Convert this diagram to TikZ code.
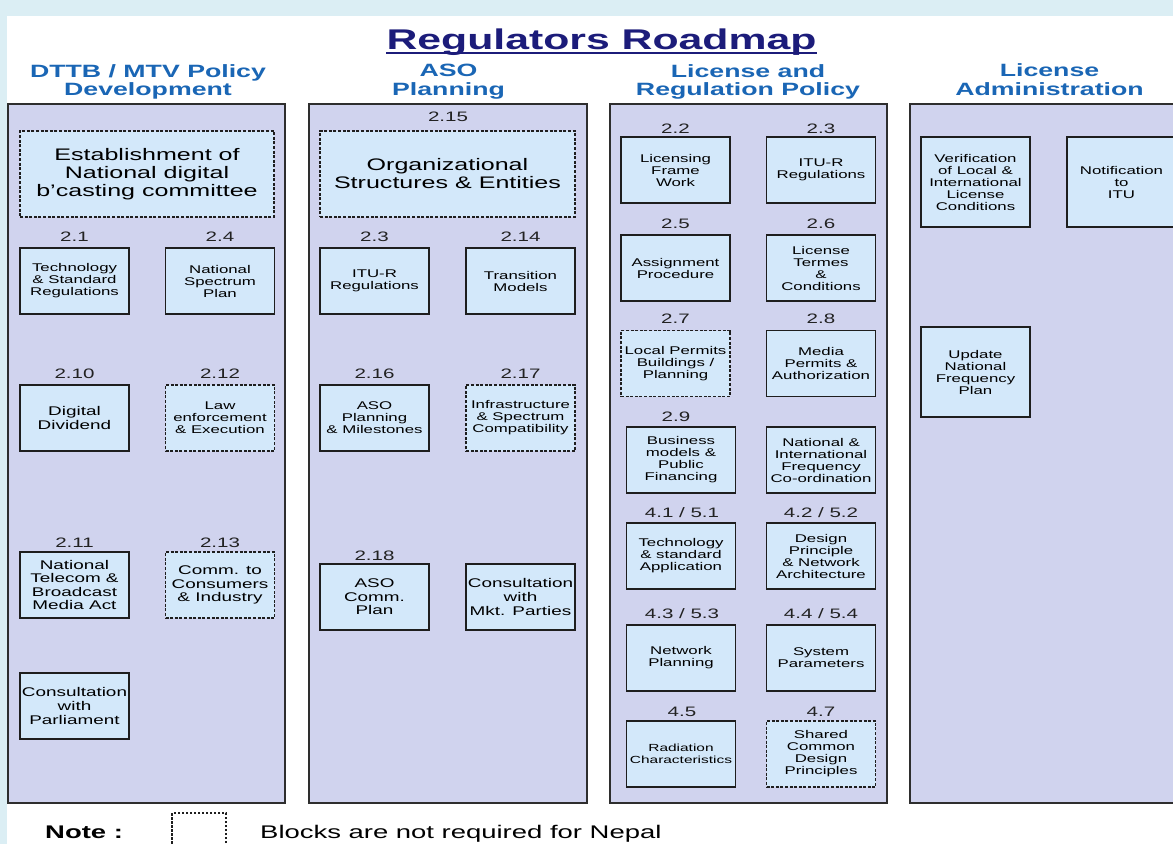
\documentclass[tikz,border=0pt]{standalone}
\usepackage{fontspec}
\setmainfont{Liberation Sans}[FakeStretch=1.5]
\newcommand{\FStitle}{\fontsize{28.5pt}{30pt}\selectfont\bfseries}
\newcommand{\FShead}{\fontsize{17.8pt}{18.6pt}\selectfont\bfseries}
\newcommand{\FSbig}{\fontsize{16.7pt}{18pt}\selectfont}
\newcommand{\FSmed}{\fontsize{12.6pt}{13.6pt}\selectfont}
\newcommand{\FSsmall}{\fontsize{11.2pt}{12pt}\selectfont}
\newcommand{\FStiny}{\fontsize{10.3pt}{12pt}\selectfont}
\newcommand{\FSlbl}{\fontsize{13.7pt}{14pt}\selectfont}
\newcommand{\FSnote}{\fontsize{18.3pt}{19pt}\selectfont}
\definecolor{bgblue}{HTML}{DBEEF4}
\definecolor{panelfill}{HTML}{D0D3EE}
\definecolor{panelline}{HTML}{2E2E2E}
\definecolor{boxfill}{HTML}{D3E8FA}
\definecolor{boxline}{HTML}{1E1E1E}
\definecolor{titlecol}{HTML}{1C1C7A}
\definecolor{headcol}{HTML}{1A66B5}
\definecolor{lblcol}{HTML}{222222}
\begin{document}
\begin{tikzpicture}[x=1pt,y=-1pt,
  panel/.style={draw=panelline, fill=panelfill, line width=2pt, inner sep=0pt, minimum height=699pt},
  bx/.style={draw=boxline, fill=boxfill, line width=1.8pt, minimum width=109pt, minimum height=66pt, inner sep=0pt, align=center, text=black, font=\FSsmall},
  dbx/.style={bx, dash pattern=on 3pt off 1.6pt, line width=1.5pt},
  lbl/.style={anchor=base, inner sep=0pt, font=\FSlbl, text=lblcol},
  head/.style={inner sep=0pt, align=center, font=\FShead, text=headcol},
  notetxt/.style={anchor=base west, inner sep=0pt, font=\FSnote, text=black}
]
\useasboundingbox (0,0) rectangle (1173,844);
\clip (0,0) rectangle (1173,844);
\fill[bgblue] (0,0) rectangle (1173,844);
\fill[white] (7.3,16) rectangle (1173,844);

% title
\node[anchor=base, inner sep=0pt, font=\FStitle, text=titlecol] (title) at (601.5,49) {Regulators Roadmap};
\draw[titlecol, line width=2pt] ([yshift=-3.5pt]title.base west) -- ([yshift=-3.5pt]title.base east);

% headers
\node[head] (h1) at (148,81.8) {DTTB / MTV Policy\\Development};
\node[head] (h2) at (448.5,81.8) {ASO\\Planning};
\node[head] (h3) at (748,81.8) {License and\\Regulation Policy};
\node[head] (h4) at (1049.5,79.9) {License\\Administration};

% panels
\node[panel, minimum width=277pt] (p1) at (146.5,453.5) {};
\node[panel, minimum width=278pt] (p2) at (448,453.5) {};
\node[panel, minimum width=277.5pt] (p3) at (748.25,453.5) {};
\node[panel, minimum width=280pt] (p4) at (1050,453.5) {};

% ---------- panel 1 ----------
\node[dbx, minimum width=254pt, minimum height=86pt, font=\FSbig] (b0) at (147,174) {Establishment of\\National digital\\b'casting committee};
\node[lbl] (l21) at (74.5,241.9) {2.1};
\node[lbl] (l24) at (220,241.9) {2.4};
\node[bx] (b21) at (74.5,281) {Technology\\\& Standard\\Regulations};
\node[bx] (b24) at (220,281) {National\\Spectrum\\Plan};
\node[lbl] (l210) at (74.5,378.9) {2.10};
\node[lbl] (l212) at (220,378.9) {2.12};
\node[bx, font=\FSmed] (b210) at (74.5,418) {Digital\\Dividend};
\node[dbx] (b212) at (220,418) {Law\\enforcement\\\& Execution};
\node[lbl] (l211) at (74.5,547.9) {2.11};
\node[lbl] (l213) at (220,547.9) {2.13};
\node[bx, font=\FSmed] (b211) at (74.5,585) {National\\Telecom \&\\Broadcast\\Media Act};
\node[dbx, font=\FSmed] (b213) at (220,585) {Comm. to\\Consumers\\\& Industry};
\node[bx, font=\FSmed] (bparl) at (74.5,706) {Consultation\\with\\Parliament};

% ---------- panel 2 ----------
\node[lbl] (l215) at (448,121.9) {2.15};
\node[dbx, minimum width=255pt, minimum height=86pt, font=\FSbig] (b215) at (447.5,174) {Organizational\\Structures \& Entities};
\node[lbl] (l23a) at (374.5,241.9) {2.3};
\node[lbl] (l214) at (520.5,241.9) {2.14};
\node[bx] (b23a) at (374.5,281) {ITU-R\\Regulations};
\node[bx] (b214) at (520.5,281) {Transition\\Models};
\node[lbl] (l216) at (374.5,378.9) {2.16};
\node[lbl] (l217) at (520.5,378.9) {2.17};
\node[bx] (b216) at (374.5,418) {ASO\\Planning\\\& Milestones};
\node[dbx] (b217) at (520.5,418) {Infrastructure\\\& Spectrum\\Compatibility};
\node[lbl] (l218) at (374.5,560.9) {2.18};
\node[bx, font=\FSmed] (b218) at (374.5,597) {ASO\\Comm.\\Plan};
\node[bx, font=\FSmed] (bmkt) at (520.5,597) {Consultation\\with\\Mkt. Parties};

% ---------- panel 3 ----------
\node[lbl] (l22) at (675.5,133.9) {2.2};
\node[lbl] (l23b) at (821,133.9) {2.3};
\node[bx] (b22) at (675.5,170) {Licensing\\Frame\\Work};
\node[bx] (b23b) at (821,170) {ITU-R\\Regulations};
\node[lbl] (l25) at (675.5,228.9) {2.5};
\node[lbl] (l26) at (821,228.9) {2.6};
\node[bx] (b25) at (675.5,268) {Assignment\\Procedure};
\node[bx] (b26) at (821,268) {License\\Termes\\\&\\Conditions};
\node[lbl] (l27) at (675.5,323.9) {2.7};
\node[lbl] (l28) at (821,323.9) {2.8};
\node[dbx] (b27) at (675.5,363.5) {Local Permits\\Buildings /\\Planning};
\node[bx] (b28) at (821,363.5) {Media\\Permits \&\\Authorization};
\node[lbl] (l29) at (676,421.9) {2.9};
\node[bx] (b29) at (681,460) {Business\\models \&\\Public\\Financing};
\node[bx] (bfreq) at (821,460) {National \&\\International\\Frequency\\Co-ordination};
\node[lbl] (l41) at (682,517.9) {4.1 / 5.1};
\node[lbl] (l42) at (821,517.9) {4.2 / 5.2};
\node[bx] (b41) at (681,556) {Technology\\\& standard\\Application};
\node[bx] (b42) at (821,556) {Design\\Principle\\\& Network\\Architecture};
\node[lbl] (l43) at (682,618.9) {4.3 / 5.3};
\node[lbl] (l44) at (821,618.9) {4.4 / 5.4};
\node[bx] (b43) at (681,658) {Network\\Planning};
\node[bx] (b44) at (821,658) {System\\Parameters};
\node[lbl] (l45) at (682,716.9) {4.5};
\node[lbl] (l47) at (821,716.9) {4.7};
\node[bx, font=\FStiny] (b45) at (681,754) {Radiation\\Characteristics};
\node[dbx] (b47) at (821,754) {Shared\\Common\\Design\\Principles};

% ---------- panel 4 ----------
\node[bx, minimum height=90pt] (bver) at (975.5,182) {Verification\\of Local \&\\International\\License\\Conditions};
\node[bx, minimum height=90pt] (bitu) at (1121.5,182) {Notification\\to\\ITU};
\node[bx, minimum height=90pt] (bupd) at (975.5,372) {Update\\National\\Frequency\\Plan};

% ---------- note ----------
\node[notetxt, font=\FSnote\bfseries] (note) at (45,838) {Note :};
\node[draw=boxline, fill=white, line width=1.3pt, dash pattern=on 2.5pt off 1.5pt, minimum width=54pt, minimum height=48pt, inner sep=0pt] (nbox) at (199,837) {};
\node[notetxt] (notet) at (260,838) {Blocks are not required for Nepal};
\end{tikzpicture}
\end{document}
